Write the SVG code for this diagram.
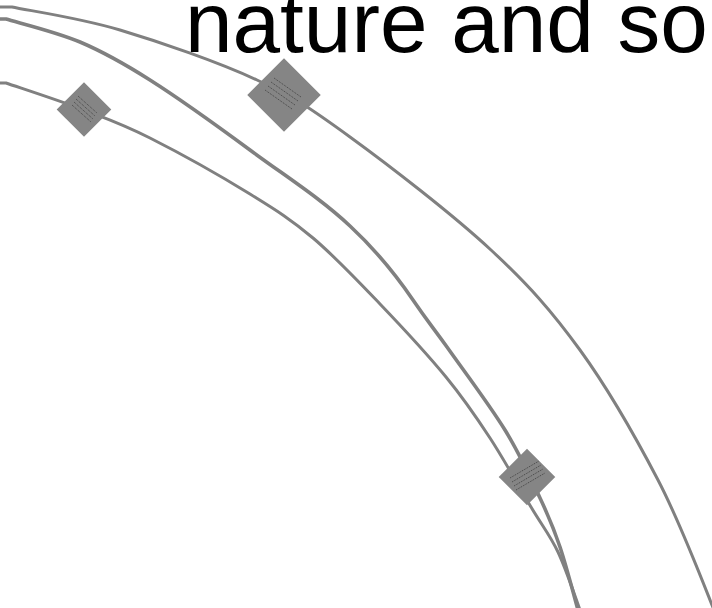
<svg xmlns="http://www.w3.org/2000/svg" width="712" height="608" viewBox="0 0 712 608">
  <style>
    .wire { fill: none; stroke: #808080; stroke-linecap: butt; stroke-linejoin: round; }
    .pad { fill: #858585; stroke: none; }
    .hatch { stroke: #454545; stroke-width: 1; stroke-dasharray: 1 1; fill: none; }
    .label { font-family: "Liberation Sans", Arial, sans-serif; font-size: 85.5px; fill: #000000; }
  </style>
  <rect width="712" height="608" fill="#ffffff"/>

  <!-- label -->
  <g id="title">
    <text class="label" x="185" y="52">nature and so</text>
  </g>

  <!-- connectors -->
  <g id="connectors">
    <path id="link-a" class="wire" stroke-width="3"
      d="M0,7 L12,7 C30,10.8 79.2,17.8 120,30 C160.8,42.2 218.7,62.2 257,80 C295.3,97.8 311,108.7 350,137 C389,165.3 452.7,214.5 491,250 C529.3,285.5 552.2,311.7 580,350 C607.8,388.3 636,437.8 658,480 C680,522.2 703,582.5 714,610"/>
    <path id="link-b" class="wire" stroke-width="3.6"
      d="M0,19 L6,19 C18.3,22.8 56,31.8 80,42 C104,52.2 121.7,62 150,80 C178.3,98 212,122 250,150 C288,178 320,198 350,226 C378,252 398,278 413,300 C428,322 432,326 447,347 C462.3,368.7 489.5,404.8 505,430 C520.5,455.2 530.8,478.5 540,498 C549.2,517.5 553.7,528.3 560,547 C566.3,565.7 575,599.5 578,610"/>
    <path id="link-c" class="wire" stroke-width="3"
      d="M0,83 L6,83 C19,87.5 60,100.8 84,110 C108,119.2 122.3,124 150,138 C177.7,152 222.8,177.3 250,194 C277.2,210.7 291.3,219.7 313,238 C334.7,256.3 357.8,280.8 380,304 C402.2,327.2 427.7,354.7 446,377 C464.3,399.3 475.8,416.3 490,438 C504.2,459.7 519.7,488 531,507 C542.3,526 549.8,534.8 558,552 C566.2,569.2 576.3,600.3 580,610"/>
  </g>

  <!-- junction pads -->
  <g id="pad-left">
    <rect class="pad" x="-19.3" y="-19.3" width="38.6" height="38.6" transform="translate(84 109.5) rotate(45)"/>
    <g class="hatch">
      <line x1="78" y1="96" x2="97" y2="113"/>
      <line x1="76" y1="99" x2="95" y2="116"/>
      <line x1="74" y1="102" x2="93" y2="119"/>
      <line x1="72" y1="105" x2="91" y2="122"/>
    </g>
  </g>

  <g id="pad-top">
    <rect class="pad" x="-26" y="-26" width="52" height="52" transform="translate(284 95) rotate(45)"/>
    <g class="hatch">
      <line x1="274" y1="78" x2="301" y2="97"/>
      <line x1="271" y1="82" x2="298" y2="101"/>
      <line x1="268" y1="86" x2="295" y2="105"/>
      <line x1="265" y1="90" x2="292" y2="109"/>
    </g>
  </g>

  <g id="pad-bottom">
    <rect class="pad" x="-20" y="-20" width="40" height="40" transform="translate(527 477) rotate(45)"/>
    <g class="hatch">
      <line x1="510" y1="478" x2="539" y2="461"/>
      <line x1="512" y1="482" x2="541" y2="465"/>
      <line x1="514" y1="486" x2="543" y2="469"/>
      <line x1="516" y1="490" x2="545" y2="473"/>
    </g>
  </g>
</svg>
